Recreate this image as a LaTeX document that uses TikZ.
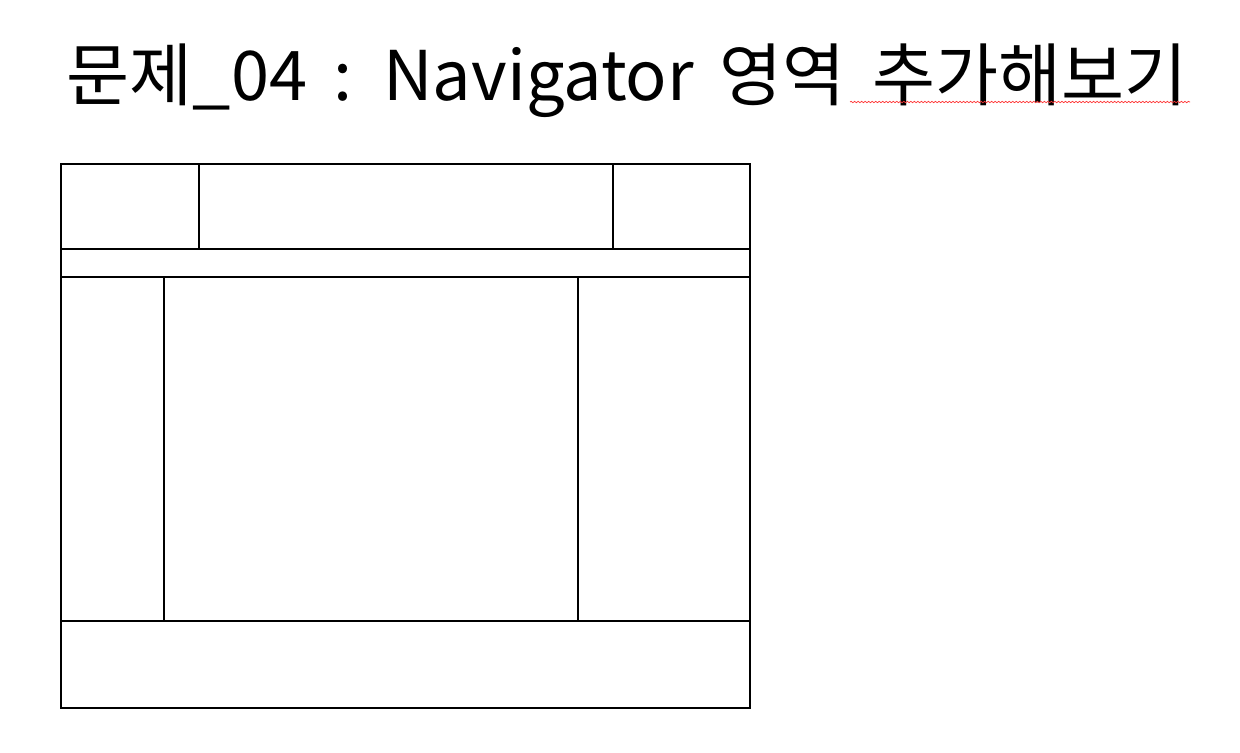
\documentclass[tikz,border=0pt]{standalone}
\usepackage{fontspec}
\setmainfont{Noto Sans CJK KR}
\usetikzlibrary{decorations.pathmorphing}

\begin{document}
\begin{tikzpicture}[x=0.02cm, y=-0.02cm, every node/.style={inner sep=0pt, outer sep=0pt},
	area/.style={draw, line width=1.2pt, anchor=north west},
	inner/.style={draw, line width=0.9pt, anchor=north west}]
	\useasboundingbox (0,0) rectangle (1240,752);
	% title
	\node[anchor=base, font=\fontsize{39}{42}\selectfont, execute at begin node={\spaceskip=0.38em plus 0.1em}] (title) at (627,100) {문제\_04 : Navigator 영역 추가해보기};
	\coordinate (sqA) at (850,102);
	\coordinate (sqB) at (1190,102);
	\draw[red!80, line width=0.4pt, decorate, decoration={snake, amplitude=0.4pt, segment length=2pt}] (sqA) -- (sqB);
	% header
	\node[inner, minimum width=138*0.02cm, minimum height=85*0.02cm] (hleft) at (61,164) {};
	\node[inner, minimum width=414*0.02cm, minimum height=85*0.02cm] (hmid) at (199,164) {};
	\node[inner, minimum width=137*0.02cm, minimum height=85*0.02cm] (hright) at (613,164) {};
	% navigator
	\node[area, minimum width=689*0.02cm, minimum height=28*0.02cm] (nav) at (61,249) {};
	% body
	\node[inner, minimum width=103*0.02cm, minimum height=344*0.02cm] (left) at (61,277) {};
	\node[inner, minimum width=414*0.02cm, minimum height=344*0.02cm] (main) at (164,277) {};
	\node[inner, minimum width=172*0.02cm, minimum height=344*0.02cm] (right) at (578,277) {};
	% footer
	\node[area, minimum width=689*0.02cm, minimum height=87*0.02cm] (footer) at (61,621) {};
	% outer frame
	\draw[line width=1.2pt] (hleft.north west) rectangle (footer.south east);
\end{tikzpicture}
\end{document}
